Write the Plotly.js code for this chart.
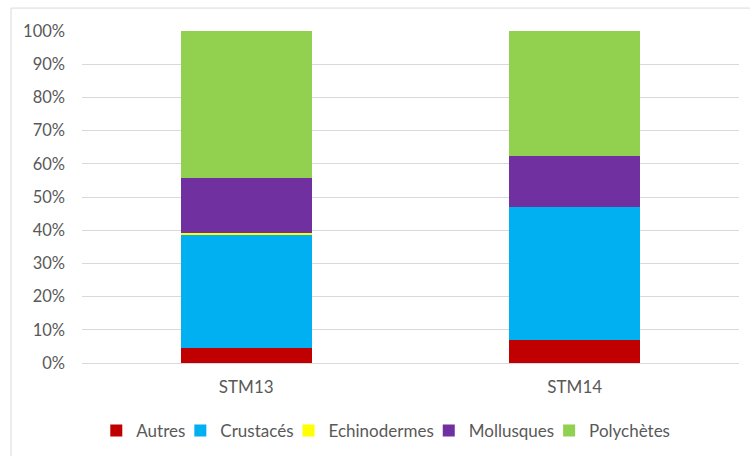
<!DOCTYPE html>
<html>
<head>
<meta charset="utf-8">
<script src="https://cdn.plot.ly/plotly-3.0.1.min.js"></script>
<style>
  html, body { margin: 0; padding: 0; background: #fff; }
  #chart { width: 750px; height: 456px; }
</style>
</head>
<body>
<div id="chart"></div>
<script>
// Stations on the x axis
const stations = ['STM13', 'STM14'];

// Share of each taxonomic group per station (fraction of total)
const autres       = [0.046, 0.070];
const crustaces    = [0.340, 0.400];
const echinodermes = [0.007, 0.000];
const mollusques   = [0.164, 0.154];
const polychetes   = [0.443, 0.376];

const groupNames  = ['Autres', 'Crustacés', 'Echinodermes', 'Mollusques', 'Polychètes'];
const groupValues = [autres, crustaces, echinodermes, mollusques, polychetes];
const groupColors = ['#C00000', '#00B0F0', '#FFFF00', '#7030A0', '#92D050'];

const traces = groupNames.map((name, i) => ({
  type: 'bar',
  name: name,
  x: stations,
  y: groupValues[i],
  marker: { color: groupColors[i], line: { width: 0 } },
  hoverinfo: 'x+y+name'
}));

const layout = {
  width: 750,
  height: 456,
  barmode: 'stack',
  bargap: 0.6,
  margin: { l: 82, r: 11, t: 31, b: 92.5, autoexpand: false },
  paper_bgcolor: '#ffffff',
  plot_bgcolor: '#ffffff',
  font: { family: 'Lato, "Open Sans", sans-serif', size: 16.5, color: '#595959' },
  xaxis: {
    type: 'category',
    showgrid: false,
    zeroline: false,
    showline: false,
    ticks: '',
    automargin: false,
    ticklabelstandoff: 12,
    tickfont: { size: 17, color: '#595959' }
  },
  yaxis: {
    range: [0, 1],
    dtick: 0.1,
    tickformat: '.0%',
    showgrid: true,
    gridcolor: '#d9d9d9',
    gridwidth: 1,
    zeroline: true,
    zerolinecolor: '#d9d9d9',
    zerolinewidth: 1,
    showline: false,
    ticks: '',
    automargin: false,
    ticklabelstandoff: 16,
    tickfont: { size: 16.5, color: '#595959' }
  },
  legend: {
    orientation: 'h',
    x: 0.47,
    xanchor: 'center',
    yref: 'container',
    y: 0.055,
    yanchor: 'middle',
    itemwidth: 30,
    indentation: -10,
    itemgap: 0,
    font: { size: 17, color: '#595959' },
    traceorder: 'normal'
  },
  shapes: [{
    type: 'rect',
    xref: 'paper', yref: 'paper',
    x0: -0.108, x1: 1.1,
    y0: -0.4, y1: 1.069,
    line: { color: '#d9d9d9', width: 1 },
    fillcolor: 'rgba(0,0,0,0)',
    layer: 'below'
  }]
};

Plotly.newPlot('chart', traces, layout, { displayModeBar: false, staticPlot: true });
</script>
</body>
</html>
